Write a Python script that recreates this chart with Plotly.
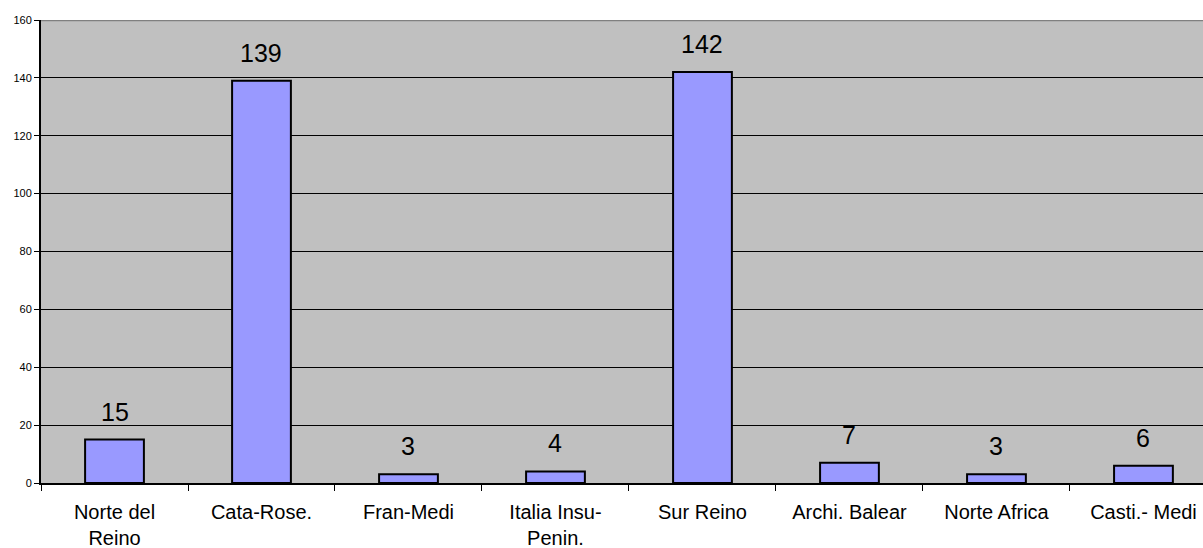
import plotly.graph_objects as go

# Data
categories = ["Norte del Reino", "Cata-Rose.", "Fran-Medi", "Italia Insu-Penin.",
              "Sur Reino", "Archi. Balear", "Norte Africa", "Casti.- Medi"]
tick_labels = ["Norte del<br>Reino", "Cata-Rose.", "Fran-Medi", "Italia Insu-<br>Penin.",
               "Sur Reino", "Archi. Balear", "Norte Africa", "Casti.- Medi"]
values = [15, 139, 3, 4, 142, 7, 3, 6]
y_ticks = [0, 20, 40, 60, 80, 100, 120, 140, 160]

FONT = "Arial, 'Liberation Sans', sans-serif"

fig = go.Figure()
fig.add_trace(go.Bar(
    x=tick_labels, y=values, width=0.4,
    marker=dict(color="#9999FF", line=dict(color="black", width=2)),
    hoverinfo="skip",
))

for lab, v in zip(tick_labels, values):
    fig.add_annotation(x=lab, y=v, text=str(v), showarrow=False,
                       yanchor="middle", yshift=28,
                       font=dict(family=FONT, size=25, color="black"))

# Top border of plot area (gray)
fig.add_shape(type="line", xref="paper", yref="y", x0=0, x1=1, y0=160, y1=160,
              line=dict(color="#808080", width=2.5))

fig.update_layout(
    width=1203, height=548,
    margin=dict(l=41, r=0, t=20, b=65),
    paper_bgcolor="white", plot_bgcolor="#C0C0C0",
    showlegend=False,
    font=dict(family=FONT, color="black"),
    bargap=0.6,
)
fig.update_xaxes(
    type="category", range=[-0.5, 7.405],
    tickson="boundaries", ticks="outside", ticklen=6, tickcolor="black", tickwidth=1,
    ticklabelstandoff=10,
    showline=True, linecolor="black", linewidth=1.5,
    showgrid=False, tickfont=dict(family=FONT, size=20, color="black"),
    fixedrange=True,
)
fig.update_yaxes(
    range=[0, 160], tickvals=y_ticks, ticks="outside", ticklen=5, tickcolor="black",
    showline=True, linecolor="black", linewidth=2,
    showgrid=True, gridcolor="black", gridwidth=1, zeroline=False,
    tickfont=dict(family=FONT, size=11, color="black"),
    fixedrange=True,
)

fig.write_html("out.html")
